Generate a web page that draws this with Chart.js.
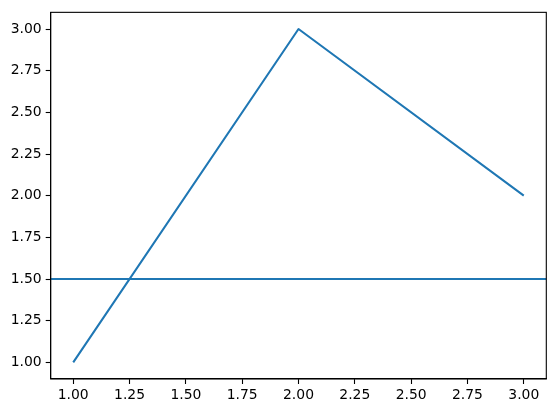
<!DOCTYPE html>
<html>
<head>
<meta charset="utf-8">
<script src="https://cdn.jsdelivr.net/npm/chart.js@4/dist/chart.umd.min.js"></script>
<style>
html,body{margin:0;padding:0;background:#fff;}
#wrap{width:556px;height:413px;}
</style>
</head>
<body>
<div id="wrap"><canvas id="c" width="556" height="413"></canvas></div>
<script>
const xValues = [1, 2, 3];
const yValues = [1, 3, 2];
const hLineValue = 1.5;
const xLimits = [0.9, 3.1];
const yLimits = [0.9, 3.1];
const tickStep = 0.25;

const lineColor = '#1f77b4';
const fontSpec = {family: 'DejaVu Sans', size: 13.9};

const frameAndHLine = {
  id: 'frameAndHLine',
  afterDatasetsDraw(chart) {
    const ctx = chart.ctx;
    const a = chart.chartArea;
    const y = chart.scales.y.getPixelForValue(hLineValue);
    ctx.save();
    ctx.beginPath();
    ctx.rect(a.left, a.top, a.right - a.left, a.bottom - a.top);
    ctx.clip();
    ctx.strokeStyle = lineColor;
    ctx.lineWidth = 2.08;
    ctx.beginPath();
    ctx.moveTo(a.left, y);
    ctx.lineTo(a.right, y);
    ctx.stroke();
    ctx.restore();
    ctx.save();
    ctx.strokeStyle = '#000';
    ctx.lineWidth = 1.1;
    ctx.strokeRect(a.left, a.top, a.right - a.left, a.bottom - a.top);
    ctx.restore();
  }
};

new Chart(document.getElementById('c'), {
  type: 'line',
  data: {
    datasets: [{
      data: xValues.map((x, i) => ({x: x, y: yValues[i]})),
      borderColor: lineColor,
      borderWidth: 2.08,
      pointRadius: 0,
      fill: false,
      tension: 0,
      borderJoinStyle: 'round'
    }]
  },
  options: {
    responsive: false,
    devicePixelRatio: 1,
    animation: false,
    layout: {padding: {left: 0, top: 10.3, right: 9.7, bottom: 0}},
    plugins: {legend: {display: false}, tooltip: {enabled: false}},
    scales: {
      x: {
        type: 'linear',
        min: xLimits[0], max: xLimits[1],
        afterBuildTicks(scale) {
          const t = [];
          for (let v = 1; v <= 3.0001; v += tickStep) t.push({value: Math.round(v * 100) / 100});
          scale.ticks = t;
        },
        afterFit(scale) { scale.height = 34; },
        grid: {drawOnChartArea: false, drawTicks: true, tickLength: 5, tickColor: '#000', tickWidth: 1.1},
        border: {display: true, color: '#000', width: 1.1},
        ticks: {color: '#000', font: fontSpec, padding: 3, maxRotation: 0, autoSkip: false,
          callback: v => Number(v).toFixed(2)}
      },
      y: {
        type: 'linear',
        min: yLimits[0], max: yLimits[1],
        afterBuildTicks(scale) {
          const t = [];
          for (let v = 1; v <= 3.0001; v += tickStep) t.push({value: Math.round(v * 100) / 100});
          scale.ticks = t;
        },
        afterFit(scale) { scale.width = 50.7; },
        grid: {drawOnChartArea: false, drawTicks: true, tickLength: 5, tickColor: '#000', tickWidth: 1.1},
        border: {display: true, color: '#000', width: 1.1},
        ticks: {color: '#000', font: fontSpec, padding: 4, autoSkip: false,
          callback: v => Number(v).toFixed(2)}
      }
    }
  },
  plugins: [frameAndHLine]
});
</script>
</body>
</html>
